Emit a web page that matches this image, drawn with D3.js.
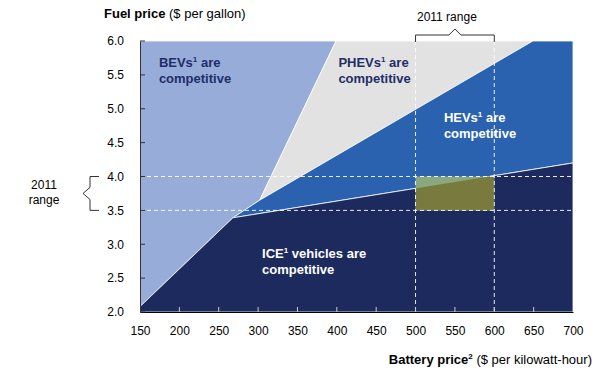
<!DOCTYPE html>
<html>
<head>
<meta charset="utf-8">
<script src="https://cdn.jsdelivr.net/npm/d3@7"></script>
<style>
  body { margin: 0; background: #fff; }
  svg { font-family: 'Liberation Sans', Arial, sans-serif; }
</style>
</head>
<body>
<div class="chart"></div>
<script>
// battery price ticks ($/kWh) and fuel price ticks ($/gal)
const xTicks = [150, 200, 250, 300, 350, 400, 450, 500, 550, 600, 650, 700]
const yTicks = [2.0, 2.5, 3.0, 3.5, 4.0, 4.5, 5.0, 5.5, 6.0]

// region outlines, [battery price, fuel price]
const bevRegion = [[150, 2.0], [150, 6.0], [399, 6.0], [302, 3.65], [268, 3.39], [150, 2.08]]
const phevRegion = [[302, 3.65], [399, 6.0], [649, 6.0]]
const hevRegion = [[268, 3.39], [302, 3.65], [649, 6.0], [700, 6.0], [700, 4.2]]
const iceRegion = [[150, 2.0], [150, 2.08], [268, 3.39], [700, 4.2], [700, 2.0]]

const rangeX = [500, 600]
const rangeY = [3.5, 4.0]

const labels = [
  {x: 174, y: 5.62, head: 'BEVs', tail: ' are', color: '#1f2d6a'},
  {x: 402, y: 5.62, head: 'PHEVs', tail: ' are', color: '#1f2d6a'},
  {x: 536, y: 4.8, head: 'HEVs', tail: ' are', color: '#fff'},
  {x: 305, y: 2.8, head: 'ICE', tail: ' vehicles are', color: '#fff'}
]

const W = 594, H = 373
const m = {l: 140, r: 21, t: 41, b: 61}

const svg = d3.select('.chart').append('svg').attr('width', W).attr('height', H)

const x = d3.scaleLinear().domain([150, 700]).range([m.l, W - m.r])
const y = d3.scaleLinear().domain([2, 6]).range([H - m.b, m.t])

const line = d3.line().x(d => x(d[0])).y(d => y(d[1]))
const poly = d => line(d) + 'Z'

const regions = [
  [bevRegion, '#97acd8'],
  [phevRegion, '#e2e2e2'],
  [hevRegion, '#2a62b0'],
  [iceRegion, '#1c2a5e']
]
svg.append('g').selectAll('path')
  .data(regions)
  .join('path')
  .attr('d', d => poly(d[0]))
  .attr('fill', d => d[1])
  .attr('stroke', '#fff')
  .attr('stroke-width', 0.8)
  .attr('stroke-linejoin', 'round')

// 2011 range box
svg.append('clipPath').attr('id', 'box')
  .append('rect')
  .attr('x', x(rangeX[0])).attr('y', y(rangeY[1]))
  .attr('width', x(rangeX[1]) - x(rangeX[0]))
  .attr('height', y(rangeY[0]) - y(rangeY[1]))
svg.append('rect')
  .attr('x', x(rangeX[0])).attr('y', y(rangeY[1]))
  .attr('width', x(rangeX[1]) - x(rangeX[0]))
  .attr('height', y(rangeY[0]) - y(rangeY[1]))
  .attr('fill', '#8ba77c')
svg.append('path')
  .attr('d', poly(iceRegion))
  .attr('clip-path', 'url(#box)')
  .attr('fill', '#787a3e')

// dashed guide lines
const dash = svg.append('g')
  .attr('stroke', '#fff').attr('stroke-width', 1).attr('stroke-dasharray', '4,3').attr('opacity', 0.9)
rangeY.forEach(v => {
  dash.append('line').attr('x1', x(150)).attr('x2', x(700)).attr('y1', y(v)).attr('y2', y(v))
})
rangeX.forEach(v => {
  dash.append('line').attr('x1', x(v)).attr('x2', x(v)).attr('y1', y(6)).attr('y2', y(2))
})

// axes
const xAxis = d3.axisBottom(x).tickValues(xTicks).tickSize(0).tickPadding(14)
svg.append('g').attr('transform', `translate(0,${y(2)})`).call(xAxis)
  .call(g => g.select('.domain').attr('stroke', '#000').attr('stroke-width', 1.2))
  .call(g => g.selectAll('text').attr('font-size', 12).attr('fill', '#000'))
svg.append('g').selectAll('line')
  .data(xTicks.slice(1, -1))
  .join('line')
  .attr('x1', d => x(d)).attr('x2', d => x(d))
  .attr('y1', y(2)).attr('y2', y(2) - 5)
  .attr('stroke', '#ccc')

const yAxis = d3.axisLeft(y).tickValues(yTicks).tickFormat(d3.format('.1f')).tickSize(0).tickPadding(16)
svg.append('g').attr('transform', `translate(${x(150)},0)`).call(yAxis)
  .call(g => g.select('.domain').attr('stroke', '#333').attr('stroke-width', 1))
  .call(g => g.selectAll('text').attr('font-size', 12).attr('fill', '#000'))
svg.append('g').selectAll('line')
  .data(yTicks)
  .join('line')
  .attr('x1', x(150)).attr('x2', x(150) + 5)
  .attr('y1', d => y(d)).attr('y2', d => y(d))
  .attr('stroke', '#333')

// axis titles
const yt = svg.append('text').attr('x', 104).attr('y', 18).attr('font-size', 13)
yt.append('tspan').attr('font-weight', 'bold').text('Fuel price')
yt.append('tspan').text(' ($ per gallon)')

const xt = svg.append('text').attr('x', 592).attr('y', 364).attr('font-size', 13).attr('text-anchor', 'end')
xt.append('tspan').attr('font-weight', 'bold').text('Battery price')
xt.append('tspan').attr('font-weight', 'bold').attr('font-size', 8).attr('dy', -5).text('2')
xt.append('tspan').attr('dy', 5).text(' ($ per kilowatt-hour)')

// region labels
labels.forEach(d => {
  const t = svg.append('text').attr('x', x(d.x)).attr('y', y(d.y))
    .attr('font-size', 13).attr('font-weight', 'bold').attr('fill', d.color)
  t.append('tspan').text(d.head)
  t.append('tspan').attr('font-size', 8).attr('dy', -5).text('1')
  t.append('tspan').attr('dy', 5).text(d.tail)
  t.append('tspan').attr('x', x(d.x)).attr('dy', 16).text('competitive')
})

// 2011 range brackets
const br = svg.append('g').attr('fill', 'none').attr('stroke', '#333').attr('stroke-width', 1)
const xm = (x(rangeX[0]) + x(rangeX[1])) / 2
br.append('path').attr('d', `M${x(rangeX[0])},42V35H${xm - 6}L${xm},29L${xm + 6},35H${x(rangeX[1])}V42`)
svg.append('text').attr('x', xm - 8).attr('y', 21).attr('text-anchor', 'middle').attr('font-size', 12).text('2011 range')

const ym = (y(rangeY[0]) + y(rangeY[1])) / 2
br.append('path').attr('d', `M99,${y(rangeY[1])}H90V${ym - 6}L83,${ym}L90,${ym + 6}V${y(rangeY[0])}H99`)
svg.append('text').attr('x', 44).attr('y', 189).attr('text-anchor', 'middle').attr('font-size', 12).text('2011')
svg.append('text').attr('x', 44).attr('y', 204).attr('text-anchor', 'middle').attr('font-size', 12).text('range')
</script>
</body>
</html>
